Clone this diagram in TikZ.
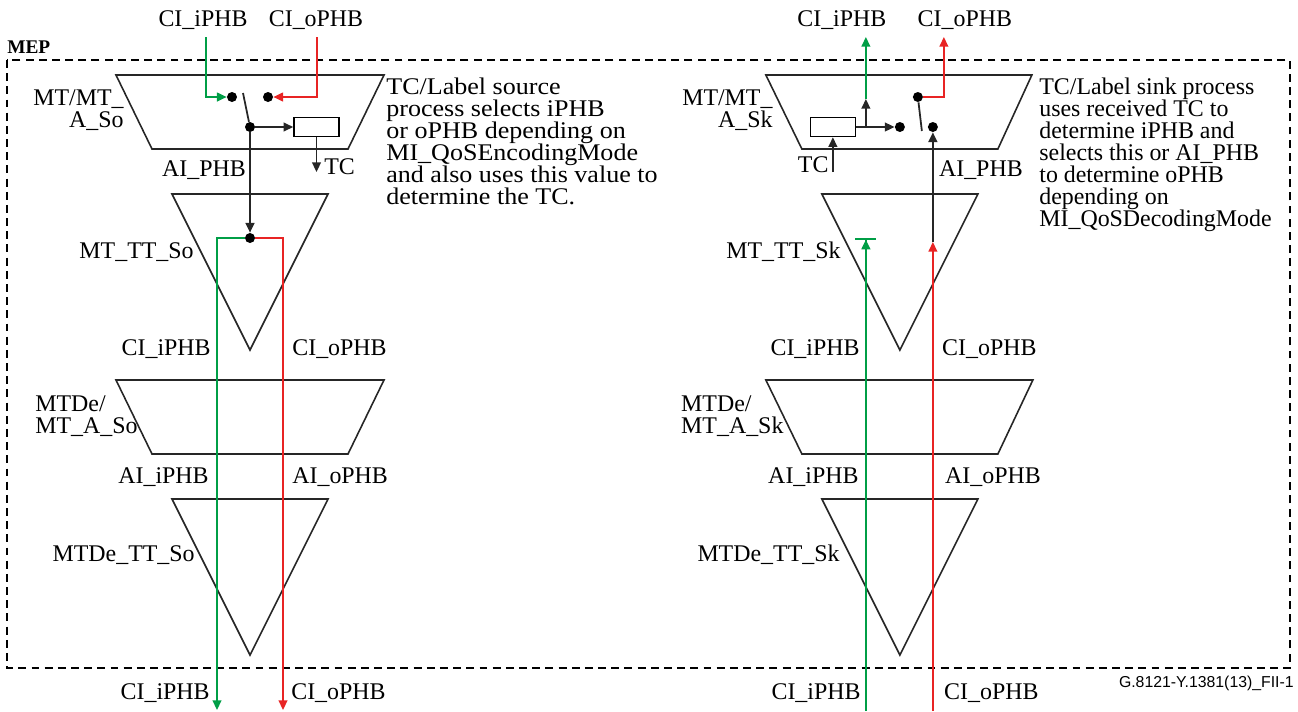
\documentclass[tikz,border=0pt]{standalone}
\usepackage{fontspec}
\setmainfont{Liberation Serif}
\setsansfont{Liberation Sans}
\newfontfamily\widenote[FakeStretch=1.09]{Liberation Serif}
\usetikzlibrary{arrows.meta}
\definecolor{phbgreen}{RGB}{0,158,70}
\definecolor{phbred}{RGB}{232,36,36}

\begin{document}
\begin{tikzpicture}[x=0.02cm, y=-0.02cm, >={Triangle[length=5.5pt,width=5pt]},
  lbl/.style={font=\fontsize{13.6}{12.5}\selectfont, inner sep=0pt},
  fblock/.style={line width=0.9pt, draw=black!85},
  blk/.style={line width=1pt, black!85},
  iphb/.style={line width=0.9pt, phbgreen},
  ophb/.style={line width=0.9pt, phbred},
  dot/.style={circle, fill, inner sep=0pt, minimum size=0.2cm},
  tcbox/.style={draw, line width=0.9pt, minimum width=0.9cm, minimum height=0.38cm, inner sep=0pt}]

  \useasboundingbox (0,0) rectangle (1298,711);

  % === MEP boundary ===
  \draw[line width=0.6pt, dash pattern=on 4.5pt off 3pt] (7,60) rectangle (1290,668);
  \node[font=\bfseries\fontsize{11}{12}\selectfont, anchor=west, inner sep=0pt] (mepLbl) at (7,47) {MEP};
  \node[font=\sffamily\fontsize{9}{10}\selectfont, anchor=east, inner sep=0pt] (figId) at (1294,683) {G.8121-Y.1381(13)\_FII-1};

  % === Source side (So) ===
  \begin{scope}
    % Atomic functions
    \draw[fblock] (116,75) -- (384,75) -- (348,149) -- (152,149) -- cycle;
    \draw[fblock] (172,194) -- (328,194) -- (250,350) -- cycle;
    \draw[fblock] (116,380) -- (384,380) -- (348,454) -- (152,454) -- cycle;
    \draw[fblock] (172,499) -- (328,499) -- (250,655) -- cycle;

    % Labels
    \node[lbl] (soCIiTop) at (203,20) {CI\_iPHB};
    \node[lbl] (soCIoTop) at (316,20) {CI\_oPHB};
    \node[lbl, align=right, anchor=east] (soAName) at (124,110) {MT/MT\_\\A\_So};
    \node[lbl] (soAIPHB) at (204,170) {AI\_PHB};
    \node[lbl, anchor=east] (soTTName) at (194,252) {MT\_TT\_So};
    \node[lbl, anchor=east] (soCIi) at (211,349) {CI\_iPHB};
    \node[lbl, anchor=west] (soCIo) at (292,349) {CI\_oPHB};
    \node[lbl, align=left, anchor=west] (soDeName) at (35,416) {MTDe/\\MT\_A\_So};
    \node[lbl, anchor=east] (soAIi) at (209,477) {AI\_iPHB};
    \node[lbl, anchor=west] (soAIo) at (292,477) {AI\_oPHB};
    \node[lbl, anchor=east] (soDeTT) at (195,555) {MTDe\_TT\_So};
    \node[lbl, anchor=east] (soCIiBot) at (210,693) {CI\_iPHB};
    \node[lbl, anchor=west] (soCIoBot) at (291,693) {CI\_oPHB};

    % Selector and TC encoder
    \node[dot] (soSwI) at (232,97) {};
    \node[dot] (soSwO) at (268,97) {};
    \node[dot] (soSwC) at (250,127) {};
    \node[tcbox] (soBox) at (316.5,127) {};
    \node[dot] (soJoin) at (250,238) {};
    \coordinate (soGIn) at (206,37);
    \coordinate (soRIn) at (317,37);
    \coordinate (soBlade) at (243,93);
    \coordinate (soTC) at (316.5,172);
    \coordinate (soGOut) at (217,710);
    \coordinate (soROut) at (283,710);
    \node[lbl, anchor=west] (soTCLbl) at (324,167) {TC};

    \draw[iphb, ->] (soGIn) |- (soSwI);
    \draw[ophb, ->] (soRIn) |- (soSwO);
    \draw[blk] (soBlade) -- (soSwC);
    \draw[blk, ->] (soSwC) -- (soBox);
    \draw[blk, ->] (soBox) -- (soTC);
    \draw[blk, ->] (soSwC) -- (soJoin);
    \draw[iphb, ->] (soJoin) -| (soGOut);
    \draw[ophb, ->] (soJoin) -| (soROut);
  \end{scope}

  \node[lbl, font=\widenote\fontsize{13.6}{12.5}\selectfont, align=left, anchor=north west] (soNote) at (386,78)
    {TC/Label source\\process selects iPHB\\or oPHB depending on\\MI\_QoSEncodingMode\\and also uses this value to\\determine the TC.};

  % === Sink side (Sk) ===
  \begin{scope}[xshift=13cm]
    % Atomic functions
    \draw[fblock] (116,75) -- (382,75) -- (348,149) -- (152,149) -- cycle;
    \draw[fblock] (172,194) -- (328,194) -- (250,350) -- cycle;
    \draw[fblock] (116,380) -- (383,380) -- (348,454) -- (152,454) -- cycle;
    \draw[fblock] (172,499) -- (328,499) -- (250,655) -- cycle;

    % Labels
    \node[lbl] (skCIiTop) at (192,20) {CI\_iPHB};
    \node[lbl] (skCIoTop) at (315,20) {CI\_oPHB};
    \node[lbl, align=right, anchor=east] (skAName) at (123,110) {MT/MT\_\\A\_Sk};
    \node[lbl] (skAIPHB) at (331,170) {AI\_PHB};
    \node[lbl, anchor=east] (skTTName) at (191,252) {MT\_TT\_Sk};
    \node[lbl, anchor=east] (skCIi) at (210,349) {CI\_iPHB};
    \node[lbl, anchor=west] (skCIo) at (292,349) {CI\_oPHB};
    \node[lbl, align=left, anchor=west] (skDeName) at (31,416) {MTDe/\\MT\_A\_Sk};
    \node[lbl, anchor=east] (skAIi) at (209,477) {AI\_iPHB};
    \node[lbl, anchor=west] (skAIo) at (295,477) {AI\_oPHB};
    \node[lbl, anchor=east] (skDeTT) at (190,555) {MTDe\_TT\_Sk};
    \node[lbl, anchor=east] (skCIiBot) at (211,693) {CI\_iPHB};
    \node[lbl, anchor=west] (skCIoBot) at (294,693) {CI\_oPHB};

    % TC decoder and selector
    \node[tcbox] (skBox) at (183,127) {};
    \node[dot] (skSwI) at (250,127) {};
    \node[dot] (skSwO) at (268,97) {};
    \node[dot] (skSwA) at (283,127) {};
    \coordinate (skTap) at (216,127);
    \coordinate (skGUp) at (216,99);
    \coordinate (skGTop) at (216,37);
    \coordinate (skRTop) at (294,37);
    \coordinate (skBlade) at (272,131);
    \coordinate (skTC) at (183,172);
    \coordinate (skGBot) at (216,711);
    \coordinate (skGEnd) at (216,238);
    \coordinate (skRBot) at (283,711);
    \coordinate (skREnd) at (283,242);
    \node[lbl, anchor=east] (skTCLbl) at (179,165) {TC};

    \draw[blk, ->] (skBox) -- (skSwI);
    \draw[blk, ->] (skTap) -- (skGUp);
    \draw[iphb, ->] (skGUp) -- (skGTop);
    \draw[blk, ->] (skTC) -- (skBox);
    \draw[ophb, ->] (skSwO) -| (skRTop);
    \draw[blk] (skSwO) -- (skBlade);
    \draw[iphb, -{Triangle[length=5.5pt,width=5pt] Bar[width=12pt]}] (skGBot) -- (skGEnd);
    \draw[ophb, ->] (skRBot) -- (skREnd);
    \draw[blk, ->] (skREnd) -- (skSwA);
  \end{scope}

  \node[lbl, align=left, anchor=north west] (skNote) at (1039,78)
    {TC/Label sink process\\uses received TC to\\determine iPHB and\\selects this or AI\_PHB\\to determine oPHB\\depending on\\MI\_QoSDecodingMode};

\end{tikzpicture}
\end{document}
